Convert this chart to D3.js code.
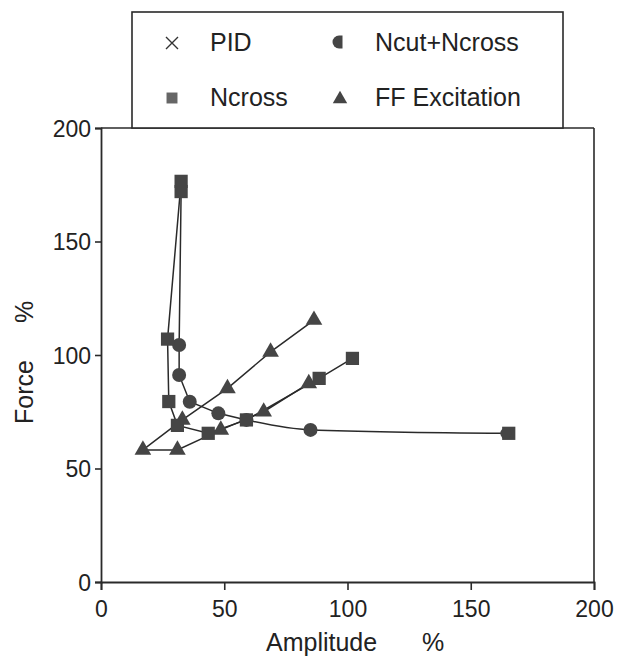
<!DOCTYPE html>
<html><head><meta charset="utf-8">
<script src="https://cdn.jsdelivr.net/npm/d3@7"></script>
<style>body{margin:0;background:#fff}svg{display:block}text{font-family:"Liberation Sans",Arial,Helvetica,sans-serif;fill:#222}</style>
</head><body><div id="chart"></div>
<script>
// ---- data (Amplitude %, Force %) ----
const xTicks = [0, 50, 100, 150, 200];
const yTicks = [0, 50, 100, 150, 200];
const legendLabels = ["PID", "Ncut+Ncross", "Ncross", "FF Excitation"];
const ncross = [[32.5,176.5],[27,107],[27.5,79.5],[31,69],[43.5,65.5],[59,71.4],[88.5,89.7],[102,98.5]];
const ncutNcross = [[32.5,172],[31.7,104.4],[31.7,91.2],[36,79.4],[47.6,74.3],[59,71.4],[85,67],[164.6,65.5]];
const ffUpper = [[17,58.2],[33,71.4],[51.3,85.3],[68.8,101.4],[86.4,115.4]];
const ffLower = [[17,58.2],[31,58.2],[48.6,67],[66,75],[84.3,87.5]];
const ncutEnd = [[164.6,65.5]];

const W = 627, H = 663;
const svg = d3.select("#chart").append("svg").attr("width", W).attr("height", H);
const x = d3.scaleLinear().domain([0,200]).range([101,594]);
const y = d3.scaleLinear().domain([0,200]).range([582,128]);
const ink = "#2a2a2a", mk = "#454545";

// frame
svg.append("line").attr("x1",x(0)).attr("x2",x(200)).attr("y1",y(200)).attr("y2",y(200)).attr("stroke",ink).attr("stroke-width",1.6);
svg.append("line").attr("x1",x(200)).attr("x2",x(200)).attr("y1",y(200)).attr("y2",y(0)).attr("stroke",ink).attr("stroke-width",1.6);

// axes
const xa = svg.append("g").attr("transform",`translate(0,${y(0)})`)
  .call(d3.axisBottom(x).tickValues(xTicks).tickSize(8).tickPadding(6).tickFormat(d3.format("d")));
const ya = svg.append("g").attr("transform",`translate(${x(0)},0)`)
  .call(d3.axisLeft(y).tickValues(yTicks).tickSize(6).tickPadding(4).tickFormat(d3.format("d")));
[xa,ya].forEach(g=>{
  g.select(".domain").attr("stroke",ink).attr("stroke-width",1.8);
  g.selectAll(".tick line").attr("stroke",ink).attr("stroke-width",1.6);
  g.selectAll(".tick text").style("font-size","23px").attr("fill","#222");
});
xa.selectAll(".tick text").attr("dy","0.9em");
ya.selectAll(".tick text").attr("dy","0.36em");

// axis labels
svg.append("text").attr("x",266).attr("y",651).style("font-size","25px").text("Amplitude");
svg.append("text").attr("x",422).attr("y",651).style("font-size","25px").text("%");
svg.append("text").attr("transform","translate(33,392) rotate(-90)").attr("text-anchor","middle").style("font-size","25px").text("Force");
svg.append("text").attr("transform","translate(33,312) rotate(-90)").attr("text-anchor","middle").style("font-size","25px").text("%");

// legend box
svg.append("rect").attr("x",132).attr("y",12).attr("width",431).attr("height",116)
  .attr("fill","#fff").attr("stroke",ink).attr("stroke-width",1.6);

// lines
const line = d3.line().x(d=>x(d[0])).y(d=>y(d[1]));
const lineSmooth = d3.line().x(d=>x(d[0])).y(d=>y(d[1])).curve(d3.curveMonotoneX);
[ffUpper, ffLower, ncross].forEach(s=>{
  svg.append("path").attr("d",line(s)).attr("fill","none").attr("stroke",ink).attr("stroke-width",1.5);
});
svg.append("path").attr("d",line(ncutNcross.slice(0,6))).attr("fill","none").attr("stroke",ink).attr("stroke-width",1.5);
svg.append("path").attr("d",lineSmooth(ncutNcross.slice(5))).attr("fill","none").attr("stroke",ink).attr("stroke-width",1.5);

// markers
const sq = d3.symbol().type(d3.symbolSquare).size(175);
const tri = d3.symbol().type(d3.symbolTriangle).size(120);
function tris(data){
  svg.append("g").selectAll("path").data(data).join("path")
    .attr("transform",d=>`translate(${x(d[0])},${y(d[1])})`).attr("d",tri).attr("fill",mk);
}
tris(ffUpper.slice(1)); tris(ffLower);
svg.append("g").selectAll("circle").data(ncutNcross.slice(1,7)).join("circle")
  .attr("cx",d=>x(d[0])).attr("cy",d=>y(d[1])).attr("r",7).attr("fill",mk);
svg.append("g").selectAll("path").data([ncutNcross[0]]).join("path")
  .attr("transform",d=>`translate(${x(d[0])},${y(d[1])})`).attr("d",sq).attr("fill",mk);
svg.append("g").selectAll("path").data(ncross).join("path")
  .attr("transform",d=>`translate(${x(d[0])},${y(d[1])})`).attr("d",sq).attr("fill",mk);
svg.append("g").selectAll("path").data(ncutEnd).join("path")
  .attr("transform",d=>`translate(${x(d[0])+2},${y(d[1])})`).attr("d",sq).attr("fill",mk);
svg.append("g").selectAll("circle").data(ncutEnd).join("circle")
  .attr("cx",d=>x(d[0])-1).attr("cy",d=>y(d[1])).attr("r",5.5).attr("fill",mk);

// legend entries
const lg = svg.append("g");
lg.append("path").attr("d","M166,37 L178,49 M178,37 L166,49").attr("stroke","#333").attr("stroke-width",1.4);
lg.append("path").attr("transform","translate(339,42)").attr("d","M3.5,-6.5 L3.5,6.5 L0,6.5 A6.5,6.5 0 0 1 0,-6.5 Z").attr("fill",mk);
lg.append("path").attr("transform","translate(172,98)").attr("d",d3.symbol().type(d3.symbolSquare).size(120)).attr("fill","#666");
lg.append("path").attr("transform","translate(340,99)").attr("d",d3.symbol().type(d3.symbolTriangle).size(90)).attr("fill",mk);
const lpos = [[210,51],[375,51],[210,106],[375,106]];
legendLabels.forEach((t,i)=>{
  lg.append("text").attr("x",lpos[i][0]).attr("y",lpos[i][1]).style("font-size","25px")
    .attr("fill", i===2 ? "#666" : "#222").text(t);
});
</script></body></html>
